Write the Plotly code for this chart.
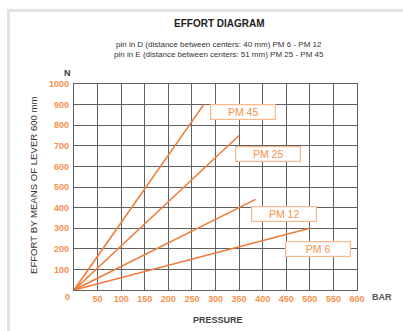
import plotly.graph_objects as go

# ---- data ----
series_names = ["PM 45", "PM 25", "PM 12", "PM 6"]
end_pressure = [275, 350, 385, 500]      # BAR
end_effort = [900, 750, 440, 300]        # N
label_pressure = [359, 411, 446, 517]
label_effort = [866, 658, 367, 201]
x_ticks = [50, 100, 150, 200, 250, 300, 350, 400, 450, 500, 550, 600]
y_ticks = [100, 200, 300, 400, 500, 600, 700, 800, 900, 1000]

W, H = 403, 331
L, R, T, B = 74, 357, 84, 290

def px(x):
    return (x - L) / (R - L)

def py(y):
    return (B - y) / (B - T)

ORANGE = "#f07c3a"
TICK_ORANGE = "#f5914c"
BOX_ORANGE = "#f8b88a"
GRID = "#606060"
DARK = "#3a3a3a"
FONT = "Liberation Sans, Arial, sans-serif"

fig = go.Figure()
for name, xe, ye in zip(series_names, end_pressure, end_effort):
    fig.add_trace(go.Scatter(x=[0, xe], y=[0, ye], mode="lines", name=name,
                             line=dict(color=ORANGE, width=1.6), showlegend=False,
                             hoverinfo="skip"))

annotations = []
for name, xl, yl in zip(series_names, label_pressure, label_effort):
    annotations.append(dict(x=xl, y=yl, xref="x", yref="y", text=name, showarrow=False,
                            font=dict(family=FONT, size=10.5, color="#f5924f"),
                            bgcolor="white", bordercolor=BOX_ORANGE, borderwidth=1.2,
                            borderpad=2, width=60, height=10))

def txt(x, y, text, size, color, bold=False, angle=0, xanchor="center", yanchor="middle"):
    annotations.append(dict(x=px(x), y=py(y), xref="paper", yref="paper", text=text,
                            showarrow=False, textangle=angle, xanchor=xanchor, yanchor=yanchor,
                            font=dict(family=FONT, size=size, color=color,
                                      weight="bold" if bold else "normal")))

txt(219, 24, "EFFORT DIAGRAM", 10, "#222", bold=True)
txt(219, 44.5, "pin in D (distance between centers: 40 mm) PM 6 - PM 12", 8, "#333")
txt(219, 54, "pin in E (distance between centers: 51 mm) PM 25 - PM 45", 8, "#333")
txt(67, 73, "N", 9, DARK, bold=True)
txt(67, 297, "0", 9, TICK_ORANGE, bold=True)
txt(382, 297, "BAR", 9, "#555", bold=True)
txt(218, 320, "PRESSURE", 9, "#444", bold=True)
txt(33, 185, "EFFORT BY MEANS OF LEVER 600 mm", 9.6, "#333", angle=-90)

shapes = [
    dict(type="line", xref="paper", yref="paper", x0=px(7), x1=px(403), y0=py(10.5), y1=py(10.5),
         line=dict(color="#e2e2e2", width=3), layer="below"),
    dict(type="line", xref="paper", yref="paper", x0=px(8.5), x1=px(8.5), y0=py(9), y1=py(331),
         line=dict(color="#e2e2e2", width=3), layer="below"),
]

fig.update_layout(
    width=W, height=H,
    margin=dict(l=L, r=W - R, t=T, b=H - B),
    paper_bgcolor="white", plot_bgcolor="white",
    annotations=annotations, shapes=shapes,
    font=dict(family=FONT),
    xaxis=dict(range=[0, 600], tickvals=x_ticks, showgrid=True, gridcolor=GRID, gridwidth=1.4,
               showline=True, mirror=True, linecolor=GRID, linewidth=1.4, zeroline=False,
               tickfont=dict(family=FONT, size=9, color=TICK_ORANGE, weight="bold"),
               fixedrange=True),
    yaxis=dict(range=[0, 1000], tickvals=y_ticks, showgrid=True, gridcolor=GRID, gridwidth=1.4,
               showline=True, mirror=True, linecolor=GRID, linewidth=1.4, zeroline=False,
               tickfont=dict(family=FONT, size=9, color=TICK_ORANGE, weight="bold"),
               ticklabelstandoff=2, fixedrange=True),
)

fig.write_html("out.html", config={"displayModeBar": False},
               post_script="document.body.style.margin='0';document.body.style.overflow='hidden';")
